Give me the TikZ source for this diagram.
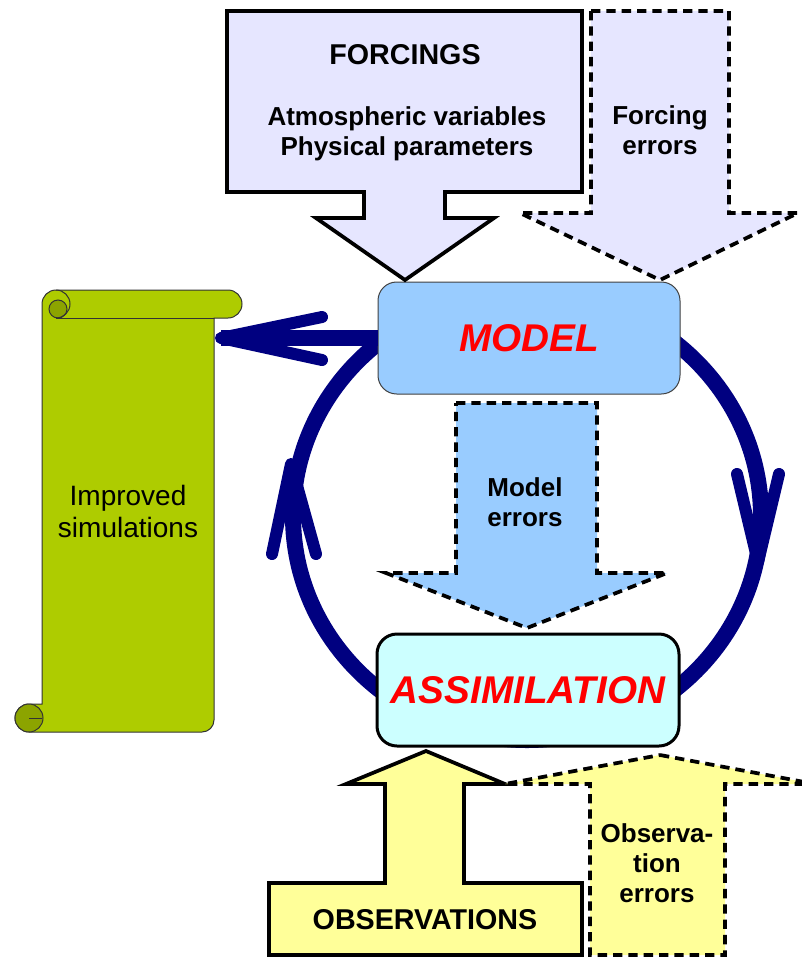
\documentclass[tikz,border=0pt]{standalone}
\usepackage{fontspec}
\setmainfont{Liberation Sans}
\usepackage{tikz}
\definecolor{navyring}{HTML}{000080}
\definecolor{forcefill}{HTML}{E6E6FF}
\definecolor{modelfill}{HTML}{99CCFF}
\definecolor{assimfill}{HTML}{CCFFFF}
\definecolor{obsfill}{HTML}{FFFF99}
\definecolor{scrollgreen}{HTML}{AECC00}
\definecolor{curlgreen}{HTML}{8CA400}

\begin{document}
\begin{tikzpicture}[x=0.75pt,y=-0.75pt,
  blockarrow/.style={draw=black,line width=2.8pt,line join=miter},
  errarrow/.style={blockarrow,dash pattern=on 7pt off 4.5pt},
  lbl/.style={font=\bfseries\fontsize{19.5}{22.5}\selectfont,align=center},
  core/.style={rounded corners=14pt,minimum width=226.5pt,minimum height=84pt,
    outer sep=0pt,text=red,font=\bfseries\itshape\fontsize{29}{34}\selectfont},
  ring/.style={draw=navyring,line width=12pt},
  chevron/.style={draw=navyring,line width=9pt,line cap=round,line join=round}]
  \useasboundingbox (0,0) rectangle (801,958);

  % 循環の輪
  \coordinate (cyc) at (527,516);
  \draw[ring] (cyc) ellipse (234 and 224);

  % 巻物
  \filldraw[fill=scrollgreen,draw=black!80,line width=0.75pt]
    (42,304) -- (42,704) -- (29,704) arc(270:90:14) -- (202,732) arc(90:0:12)
    -- (214,318) -- (228,318) arc(90:-90:14) -- (56,290) arc(270:180:14) -- cycle;
  \draw[draw=black!80,line width=0.75pt] (56,318) -- (214,318);
  \filldraw[fill=curlgreen,draw=black!80,line width=0.75pt] (58,309) circle (9);
  \draw[draw=black!80,line width=0.75pt] (56,290) arc(-90:90:14);
  \filldraw[fill=curlgreen,draw=black!80,line width=0.75pt] (29,718) circle (14);
  \draw[draw=black!80,line width=0.75pt] (29,718) -- (42,718);
  \node[font=\fontsize{21}{24}\selectfont,align=center] (scrolltxt) at (128,511) {Improved\\simulations};
  \coordinate (scrolltip) at (221,338);

  % 中心ノード
  \node[core,draw=black!75,line width=0.75pt,fill=modelfill] (model) at (529,338) {MODEL};
  \node[core,draw=black,line width=2.25pt,fill=assimfill,rounded corners=15pt] (assim) at (528,690) {ASSIMILATION};

  % 出力の矢印
  \draw[ring] (model.west) -- (scrolltip);
  \draw[chevron] (322,317) -- (scrolltip) -- (322,360);
  \draw[chevron] (272,554) -- (291,464) -- (316,554);
  \draw[chevron] (737,474) -- (758,562) -- (779,474);

  % 強制力
  \filldraw[blockarrow,fill=forcefill] (227,11) -- (582,11) -- (582,192) -- (445,192) -- (445,218)
    -- (494,218) -- (405,280) -- (316,218) -- (364,218) -- (364,192) -- (227,192) -- cycle;
  \node[font=\bfseries\fontsize{21.5}{24}\selectfont] (forcetitle) at (405,55) {FORCINGS};
  \node[lbl] (forcesub) at (407,134) {Atmospheric variables\\Physical parameters};
  \filldraw[errarrow,fill=forcefill] (591,11) -- (729,11) -- (729,213) -- (798,213)
    -- (660,280) -- (520,213) -- (591,213) -- cycle;
  \node[lbl] (forceerr) at (660,130) {Forcing\\errors};

  % モデル誤差
  \filldraw[errarrow,fill=modelfill] (456,403) -- (597,403) -- (597,573) -- (667,573)
    -- (527,628) -- (386,573) -- (456,573) -- cycle;
  \node[lbl] (modelerr) at (525,502) {Model\\errors};

  % 観測
  \filldraw[blockarrow,fill=obsfill] (426,751) -- (505,784) -- (464,784) -- (464,883) -- (582,883)
    -- (582,955) -- (269,955) -- (269,883) -- (385,883) -- (385,784) -- (346,784) -- cycle;
  \node[font=\bfseries\fontsize{21.5}{24}\selectfont] (obstitle) at (425,920) {OBSERVATIONS};
  \filldraw[errarrow,fill=obsfill] (660,755) -- (815,784) -- (725,784) -- (725,955)
    -- (590,955) -- (590,784) -- (505,784) -- cycle;
  \node[lbl] (obserr) at (657,863) {Observa-\\tion\\errors};
\end{tikzpicture}
\end{document}
